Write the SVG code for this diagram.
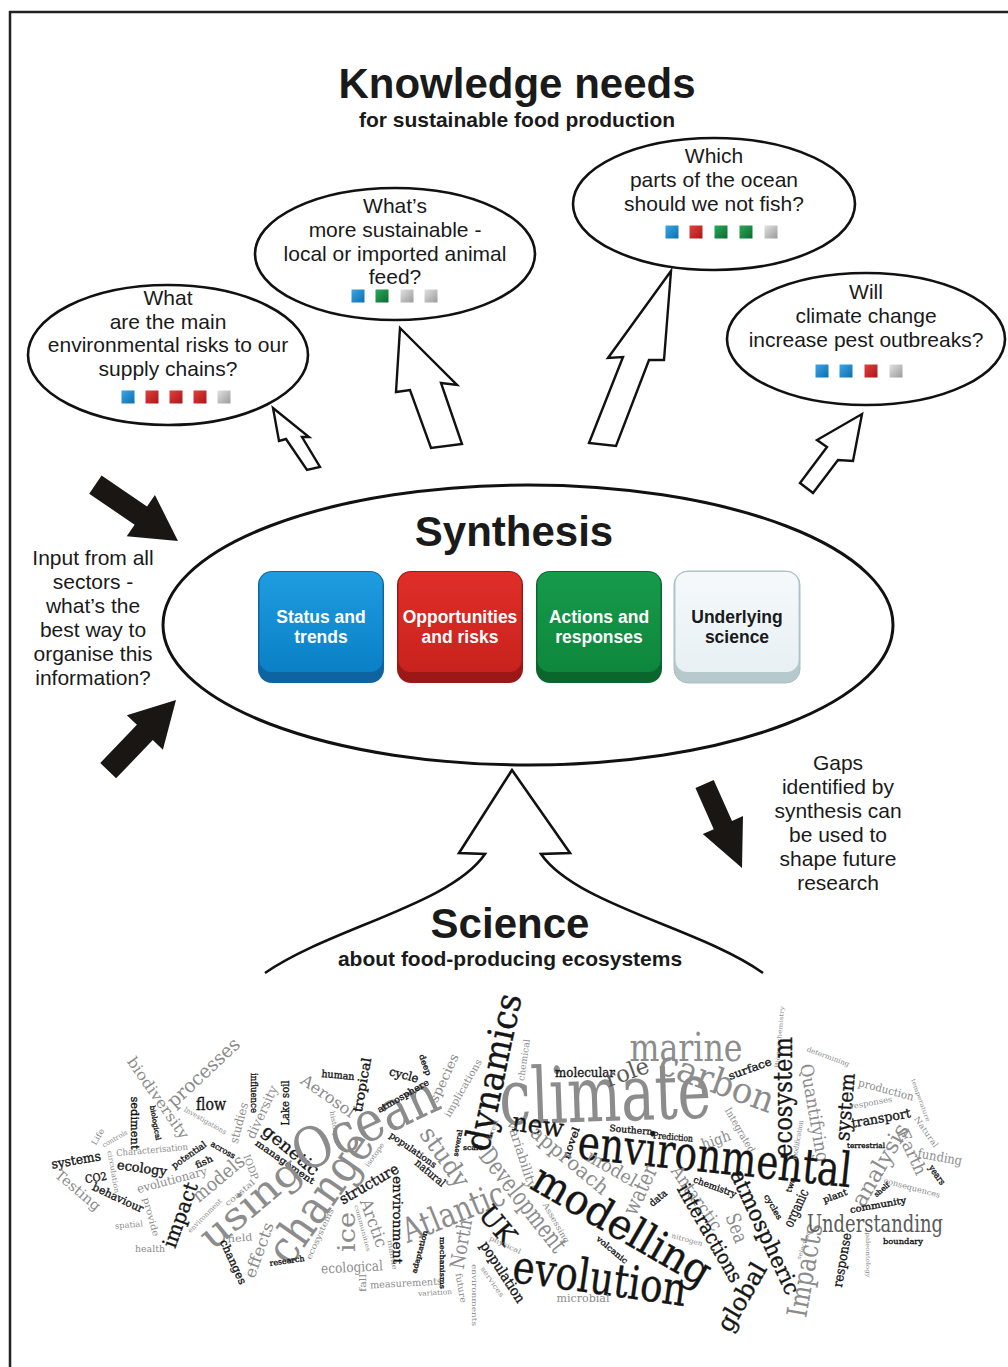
<svg xmlns="http://www.w3.org/2000/svg" width="1008" height="1367" viewBox="0 0 1008 1367">
<defs>
<style>
.sans{font-family:"Liberation Sans",Arial,sans-serif;fill:#1a1a1a;text-anchor:middle}
.q{font-size:21px}
.bt{font-size:17.5px;font-weight:bold;fill:#fff}
.bub{fill:#fff;stroke:#111;stroke-width:2.6}
.ha{fill:#fff;stroke:#111;stroke-width:2.4;stroke-linejoin:miter}
.ba{fill:#1a1614;stroke:none}
.w text{font-family:"DejaVu Serif","Liberation Serif",serif;text-anchor:middle;dominant-baseline:central}
.w .b{fill:#151515;stroke:#151515;stroke-width:0.35}
.w .g{fill:#8c8c8c}
.w .d{fill:#5a5a5a}
</style>
<linearGradient id="sqB" x1="0" y1="0" x2="1" y2="1"><stop offset="0" stop-color="#3aa5e6"/><stop offset="1" stop-color="#0d6fae"/></linearGradient>
<linearGradient id="sqR" x1="0" y1="0" x2="1" y2="1"><stop offset="0" stop-color="#e5403a"/><stop offset="1" stop-color="#a8171a"/></linearGradient>
<linearGradient id="sqG" x1="0" y1="0" x2="1" y2="1"><stop offset="0" stop-color="#2aa85a"/><stop offset="1" stop-color="#0b6b2f"/></linearGradient>
<linearGradient id="sqN" x1="0" y1="0" x2="1" y2="1"><stop offset="0" stop-color="#e2e2e2"/><stop offset="1" stop-color="#9a9a9a"/></linearGradient>
<linearGradient id="fB" x1="0" y1="0" x2="0" y2="1"><stop offset="0" stop-color="#1f9ce0"/><stop offset="1" stop-color="#0a80c6"/></linearGradient>
<linearGradient id="fR" x1="0" y1="0" x2="0" y2="1"><stop offset="0" stop-color="#e02e28"/><stop offset="1" stop-color="#c9221e"/></linearGradient>
<linearGradient id="fG" x1="0" y1="0" x2="0" y2="1"><stop offset="0" stop-color="#169a4b"/><stop offset="1" stop-color="#0e873d"/></linearGradient>
<linearGradient id="fL" x1="0" y1="0" x2="0" y2="1"><stop offset="0" stop-color="#f5f9fb"/><stop offset="1" stop-color="#e8f0f3"/></linearGradient>
<rect id="sq" x="-6.5" y="-6.5" width="13" height="13"/>
</defs>

<rect x="10" y="12" width="1030" height="1400" fill="#fff" stroke="#222" stroke-width="2.5"/>

<g id="title">
<text class="sans" x="517" y="98" style="font-size:42px;font-weight:bold">Knowledge needs</text>
<text class="sans" x="517" y="127" style="font-size:21px;font-weight:bold">for sustainable food production</text>
</g>

<g id="connectors">
<polygon id="arrowA" class="ha" points="273,408 309,437 302,437 320,467 307,470 286,439 279,441"/>
<polygon id="arrowB" class="ha" points="400,328 457,385 441,383 462,444 431,448 410,390 396,392"/>
<polygon id="arrowC" class="ha" points="671,271 664,360 649,360 616,446 589,443 623,357 608,358"/>
<polygon id="arrowD" class="ha" points="862,414 853,461 838,460 813,493 800,483 827,447 817,440"/>
<polygon id="inTop" class="ba" transform="translate(178,541) rotate(124.3)" points="0,0 25,45 11,45 11,100 -11,100 -11,45 -25,45"/>
<polygon id="inBottom" class="ba" transform="translate(176,700) rotate(43.8)" points="0,0 25,45 11,45 11,98 -11,98 -11,45 -25,45"/>
<polygon id="gapsArrow" class="ba" transform="translate(742,868) rotate(156)" points="0,0 22,47 10,47 10,92 -10,92 -10,47 -22,47"/>
<path id="scienceArrow" d="M265,973 C330,928 450,905 485,854 L459,853 L512,770 L570,853 L541,854 C576,905 700,928 763,973" fill="none" stroke="#111" stroke-width="2.6" stroke-linejoin="miter"/>
</g>

<g id="q1">
<ellipse class="bub" cx="168" cy="355" rx="140" ry="70"/>
<text class="sans q" x="168" y="305">What</text>
<text class="sans q" x="168" y="329">are the main</text>
<text class="sans q" x="168" y="352">environmental risks to our</text>
<text class="sans q" x="168" y="376">supply chains?</text>
<use href="#sq" x="128" y="397" fill="url(#sqB)"/>
<use href="#sq" x="152" y="397" fill="url(#sqR)"/>
<use href="#sq" x="176" y="397" fill="url(#sqR)"/>
<use href="#sq" x="200" y="397" fill="url(#sqR)"/>
<use href="#sq" x="224" y="397" fill="url(#sqN)"/>
</g>

<g id="q2">
<ellipse class="bub" cx="395" cy="254" rx="140" ry="66"/>
<text class="sans q" x="395" y="213">What’s</text>
<text class="sans q" x="395" y="237">more sustainable -</text>
<text class="sans q" x="395" y="261">local or imported animal</text>
<text class="sans q" x="395" y="284">feed?</text>
<use href="#sq" x="358" y="296" fill="url(#sqB)"/>
<use href="#sq" x="382" y="296" fill="url(#sqG)"/>
<use href="#sq" x="407" y="296" fill="url(#sqN)"/>
<use href="#sq" x="431" y="296" fill="url(#sqN)"/>
</g>

<g id="q3">
<ellipse class="bub" cx="714" cy="204" rx="141" ry="66"/>
<text class="sans q" x="714" y="163">Which</text>
<text class="sans q" x="714" y="187">parts of the ocean</text>
<text class="sans q" x="714" y="211">should we not fish?</text>
<use href="#sq" x="672" y="232" fill="url(#sqB)"/>
<use href="#sq" x="696" y="232" fill="url(#sqR)"/>
<use href="#sq" x="721" y="232" fill="url(#sqG)"/>
<use href="#sq" x="746" y="232" fill="url(#sqG)"/>
<use href="#sq" x="771" y="232" fill="url(#sqN)"/>
</g>

<g id="q4">
<ellipse class="bub" cx="866" cy="339" rx="139" ry="66"/>
<text class="sans q" x="866" y="299">Will</text>
<text class="sans q" x="866" y="323">climate change</text>
<text class="sans q" x="866" y="347">increase pest outbreaks?</text>
<use href="#sq" x="822" y="371" fill="url(#sqB)"/>
<use href="#sq" x="846" y="371" fill="url(#sqB)"/>
<use href="#sq" x="871" y="371" fill="url(#sqR)"/>
<use href="#sq" x="896" y="371" fill="url(#sqN)"/>
</g>

<g id="inputText">
<text class="sans q" x="93" y="565">Input from all</text>
<text class="sans q" x="93" y="589">sectors -</text>
<text class="sans q" x="93" y="613">what’s the</text>
<text class="sans q" x="93" y="637">best way to</text>
<text class="sans q" x="93" y="661">organise this</text>
<text class="sans q" x="93" y="685">information?</text>
</g>

<g id="gapsText">
<text class="sans q" x="838" y="770">Gaps</text>
<text class="sans q" x="838" y="794">identified by</text>
<text class="sans q" x="838" y="818">synthesis can</text>
<text class="sans q" x="838" y="842">be used to</text>
<text class="sans q" x="838" y="866">shape future</text>
<text class="sans q" x="838" y="890">research</text>
</g>

<g id="synthesis">
<ellipse cx="528" cy="625" rx="365" ry="140" fill="#fff" stroke="#111" stroke-width="3"/>
<text class="sans" x="514" y="546" style="font-size:42px;font-weight:bold">Synthesis</text>
</g>

<g id="boxStatus">
<rect x="258" y="571" width="126" height="112" rx="14" fill="#0d64a0"/>
<rect x="259.5" y="572" width="123" height="100" rx="12" fill="url(#fB)"/>
<text class="sans bt" x="321" y="623">Status and</text>
<text class="sans bt" x="321" y="643">trends</text>
</g>
<g id="boxOpportunities">
<rect x="397" y="571" width="126" height="112" rx="14" fill="#9b1816"/>
<rect x="398.5" y="572" width="123" height="100" rx="12" fill="url(#fR)"/>
<text class="sans bt" x="460" y="623">Opportunities</text>
<text class="sans bt" x="460" y="643">and risks</text>
</g>
<g id="boxActions">
<rect x="536" y="571" width="126" height="112" rx="14" fill="#0a662d"/>
<rect x="537.5" y="572" width="123" height="100" rx="12" fill="url(#fG)"/>
<text class="sans bt" x="599" y="623">Actions and</text>
<text class="sans bt" x="599" y="643">responses</text>
</g>
<g id="boxScience">
<rect x="674" y="571" width="126" height="112" rx="14" fill="#b6cace" stroke="#a8bec4" stroke-width="1"/>
<rect x="675.5" y="572" width="123" height="100" rx="12" fill="url(#fL)"/>
<text class="sans bt" x="737" y="623" style="fill:#1a1a1a">Underlying</text>
<text class="sans bt" x="737" y="643" style="fill:#1a1a1a">science</text>
</g>

<g id="science">
<text class="sans" x="510" y="938" style="font-size:42px;font-weight:bold">Science</text>
<text class="sans" x="510" y="966" style="font-size:21px;font-weight:bold">about food-producing ecosystems</text>
</g>

<g id="wordcloud" class="w">
<text class="b" transform="translate(76,1160) rotate(-10)" font-size="13" textLength="50" lengthAdjust="spacingAndGlyphs">systems</text>
<text class="g" transform="translate(158,1098) rotate(55)" font-size="15" textLength="96" lengthAdjust="spacingAndGlyphs">biodiversity</text>
<text class="g" transform="translate(203,1072) rotate(-43)" font-size="19" textLength="92" lengthAdjust="spacingAndGlyphs">processes</text>
<text class="b" transform="translate(211,1104)" font-size="16" textLength="30" lengthAdjust="spacingAndGlyphs">flow</text>
<text class="b" transform="translate(134,1123) rotate(90)" font-size="11" textLength="53" lengthAdjust="spacingAndGlyphs">sediment</text>
<text class="b" transform="translate(155,1123) rotate(80)" font-size="7" textLength="35" lengthAdjust="spacingAndGlyphs">biological</text>
<text class="g" transform="translate(205,1121) rotate(30)" font-size="7" textLength="48" lengthAdjust="spacingAndGlyphs">Investigations</text>
<text class="g" transform="translate(152,1150) rotate(-5)" font-size="9" textLength="72" lengthAdjust="spacingAndGlyphs">Characterisation</text>
<text class="g" transform="translate(98,1137) rotate(-60)" font-size="8" textLength="18" lengthAdjust="spacingAndGlyphs">Life</text>
<text class="g" transform="translate(115,1139) rotate(-30)" font-size="7" textLength="28" lengthAdjust="spacingAndGlyphs">controls</text>
<text class="b" transform="translate(142,1168) rotate(8)" font-size="13" textLength="50" lengthAdjust="spacingAndGlyphs">ecology</text>
<text class="b" transform="translate(189,1155) rotate(-35)" font-size="9" textLength="40" lengthAdjust="spacingAndGlyphs">potential</text>
<text class="b" transform="translate(204,1162) rotate(-25)" font-size="9" textLength="18" lengthAdjust="spacingAndGlyphs">fish</text>
<text class="b" transform="translate(223,1150) rotate(30)" font-size="8" textLength="27" lengthAdjust="spacingAndGlyphs">across</text>
<text class="g" transform="translate(239,1123) rotate(-75)" font-size="12" textLength="42" lengthAdjust="spacingAndGlyphs">studies</text>
<text class="b" transform="translate(254,1093) rotate(90)" font-size="9" textLength="40" lengthAdjust="spacingAndGlyphs">influence</text>
<text class="g" transform="translate(262,1112) rotate(-65)" font-size="13" textLength="57" lengthAdjust="spacingAndGlyphs">diversity</text>
<text class="b" transform="translate(285,1103) rotate(-90)" font-size="11" textLength="45" lengthAdjust="spacingAndGlyphs">Lake soil</text>
<text class="g" transform="translate(251,1167) rotate(70)" font-size="10" textLength="26" lengthAdjust="spacingAndGlyphs">IODP</text>
<text class="b" transform="translate(285,1162) rotate(35)" font-size="9" textLength="70" lengthAdjust="spacingAndGlyphs">management</text>
<text class="b" transform="translate(291,1150) rotate(40)" font-size="17" textLength="68" lengthAdjust="spacingAndGlyphs">genetic</text>
<text class="b" transform="translate(338,1075) rotate(5)" font-size="10" textLength="33" lengthAdjust="spacingAndGlyphs">human</text>
<text class="g" transform="translate(328,1096) rotate(35)" font-size="16" textLength="62" lengthAdjust="spacingAndGlyphs">Aerosol</text>
<text class="b" transform="translate(362,1085) rotate(-80)" font-size="13" textLength="55" lengthAdjust="spacingAndGlyphs">tropical</text>
<text class="g" transform="translate(365,1123) rotate(-25)" font-size="56" textLength="155" lengthAdjust="spacingAndGlyphs">Ocean</text>
<text class="g" transform="translate(334,1124) rotate(80)" font-size="7" textLength="26" lengthAdjust="spacingAndGlyphs">history</text>
<text class="b" transform="translate(404,1075) rotate(15)" font-size="12" textLength="30" lengthAdjust="spacingAndGlyphs">cycle</text>
<text class="b" transform="translate(403,1096) rotate(-30)" font-size="9" textLength="58" lengthAdjust="spacingAndGlyphs">atmosphere</text>
<text class="b" transform="translate(425,1065) rotate(70)" font-size="8" textLength="22" lengthAdjust="spacingAndGlyphs">deep</text>
<text class="g" transform="translate(444,1078) rotate(-65)" font-size="13" textLength="52" lengthAdjust="spacingAndGlyphs">species</text>
<text class="g" transform="translate(463,1088) rotate(-60)" font-size="10" textLength="65" lengthAdjust="spacingAndGlyphs">implications</text>
<text class="b" transform="translate(493,1072) rotate(-78)" font-size="36" textLength="160" lengthAdjust="spacingAndGlyphs">dynamics</text>
<text class="g" transform="translate(375,1155) rotate(-55)" font-size="7" textLength="28" lengthAdjust="spacingAndGlyphs">isotope</text>
<text class="b" transform="translate(413,1150) rotate(35)" font-size="9" textLength="55" lengthAdjust="spacingAndGlyphs">populations</text>
<text class="g" transform="translate(445,1157) rotate(55)" font-size="25" textLength="68" lengthAdjust="spacingAndGlyphs">study</text>
<text class="b" transform="translate(430,1173) rotate(40)" font-size="11" textLength="36" lengthAdjust="spacingAndGlyphs">natural</text>
<text class="g" transform="translate(78,1190) rotate(40)" font-size="14" textLength="55" lengthAdjust="spacingAndGlyphs">Testing</text>
<text class="b" transform="translate(96,1178) rotate(-10)" font-size="11" textLength="22" lengthAdjust="spacingAndGlyphs">CO2</text>
<text class="g" transform="translate(113,1172) rotate(80)" font-size="7" textLength="43" lengthAdjust="spacingAndGlyphs">circulation</text>
<text class="b" transform="translate(118,1198) rotate(25)" font-size="11" textLength="55" lengthAdjust="spacingAndGlyphs">behaviour</text>
<text class="g" transform="translate(172,1180) rotate(-15)" font-size="12" textLength="72" lengthAdjust="spacingAndGlyphs">evolutionary</text>
<text class="g" transform="translate(151,1217) rotate(75)" font-size="9" textLength="40" lengthAdjust="spacingAndGlyphs">provide</text>
<text class="g" transform="translate(129,1225) rotate(-5)" font-size="8" textLength="28" lengthAdjust="spacingAndGlyphs">spatial</text>
<text class="g" transform="translate(150,1249)" font-size="9" textLength="30" lengthAdjust="spacingAndGlyphs">health</text>
<text class="b" transform="translate(180,1215) rotate(-70)" font-size="20" textLength="68" lengthAdjust="spacingAndGlyphs">impact</text>
<text class="g" transform="translate(218,1178) rotate(-40)" font-size="19" textLength="62" lengthAdjust="spacingAndGlyphs">models</text>
<text class="g" transform="translate(240,1193) rotate(-40)" font-size="8" textLength="36" lengthAdjust="spacingAndGlyphs">coastal</text>
<text class="g" transform="translate(205,1216) rotate(-45)" font-size="7" textLength="45" lengthAdjust="spacingAndGlyphs">environment</text>
<text class="g" transform="translate(250,1203) rotate(-40)" font-size="38" textLength="120" lengthAdjust="spacingAndGlyphs">using</text>
<text class="g" transform="translate(320,1197) rotate(-55)" font-size="46" textLength="150" lengthAdjust="spacingAndGlyphs">change</text>
<text class="g" transform="translate(240,1238) rotate(-5)" font-size="10" textLength="25" lengthAdjust="spacingAndGlyphs">field</text>
<text class="g" transform="translate(259,1250) rotate(-70)" font-size="16" textLength="58" lengthAdjust="spacingAndGlyphs">effects</text>
<text class="b" transform="translate(233,1262) rotate(65)" font-size="11" textLength="48" lengthAdjust="spacingAndGlyphs">changes</text>
<text class="b" transform="translate(287,1261) rotate(-8)" font-size="8" textLength="35" lengthAdjust="spacingAndGlyphs">research</text>
<text class="g" transform="translate(320,1234) rotate(-65)" font-size="8" textLength="55" lengthAdjust="spacingAndGlyphs">ecosystems</text>
<text class="b" transform="translate(369,1184) rotate(-30)" font-size="15" textLength="66" lengthAdjust="spacingAndGlyphs">structure</text>
<text class="g" transform="translate(347,1232) rotate(-90)" font-size="24" textLength="40" lengthAdjust="spacingAndGlyphs">ice</text>
<text class="g" transform="translate(352,1267) rotate(-3)" font-size="14" textLength="62" lengthAdjust="spacingAndGlyphs">ecological</text>
<text class="g" transform="translate(363,1228) rotate(75)" font-size="6" textLength="48" lengthAdjust="spacingAndGlyphs">communities</text>
<text class="g" transform="translate(374,1223) rotate(70)" font-size="17" textLength="50" lengthAdjust="spacingAndGlyphs">Arctic</text>
<text class="g" transform="translate(392,1255) rotate(80)" font-size="7" textLength="30" lengthAdjust="spacingAndGlyphs">mantle</text>
<text class="b" transform="translate(397,1220) rotate(90)" font-size="13" textLength="88" lengthAdjust="spacingAndGlyphs">environment</text>
<text class="g" transform="translate(362,1283) rotate(-90)" font-size="10" textLength="18" lengthAdjust="spacingAndGlyphs">fall</text>
<text class="g" transform="translate(406,1283) rotate(-3)" font-size="10" textLength="72" lengthAdjust="spacingAndGlyphs">measurements</text>
<text class="g" transform="translate(435,1293) rotate(-3)" font-size="7" textLength="34" lengthAdjust="spacingAndGlyphs">variation</text>
<text class="g" transform="translate(453,1212) rotate(-22)" font-size="34" textLength="108" lengthAdjust="spacingAndGlyphs">Atlantic</text>
<text class="b" transform="translate(420,1252) rotate(-75)" font-size="7" textLength="44" lengthAdjust="spacingAndGlyphs">adaptation</text>
<text class="b" transform="translate(442,1263) rotate(90)" font-size="7" textLength="52" lengthAdjust="spacingAndGlyphs">mechanisms</text>
<text class="g" transform="translate(461,1244) rotate(-80)" font-size="20" textLength="50" lengthAdjust="spacingAndGlyphs">North</text>
<text class="g" transform="translate(461,1288) rotate(80)" font-size="9" textLength="30" lengthAdjust="spacingAndGlyphs">future</text>
<text class="g" transform="translate(474,1295) rotate(90)" font-size="7" textLength="62" lengthAdjust="spacingAndGlyphs">environments</text>
<text class="g" transform="translate(492,1282) rotate(55)" font-size="7" textLength="35" lengthAdjust="spacingAndGlyphs">services</text>
<text class="b" transform="translate(503,1272) rotate(57)" font-size="14" textLength="70" lengthAdjust="spacingAndGlyphs">population</text>
<text class="b" transform="translate(498,1225) rotate(50)" font-size="27" textLength="42" lengthAdjust="spacingAndGlyphs">UK</text>
<text class="g" transform="translate(505,1245) rotate(25)" font-size="7" textLength="34" lengthAdjust="spacingAndGlyphs">physical</text>
<text class="g" transform="translate(523,1200) rotate(52)" font-size="25" textLength="125" lengthAdjust="spacingAndGlyphs">Development</text>
<text class="g" transform="translate(556,1223) rotate(60)" font-size="8" textLength="45" lengthAdjust="spacingAndGlyphs">Assessing</text>
<text class="g" transform="translate(524,1060) rotate(-82)" font-size="9" textLength="42" lengthAdjust="spacingAndGlyphs">chemical</text>
<text class="g" transform="translate(605,1094) rotate(-2)" font-size="78" textLength="212" lengthAdjust="spacingAndGlyphs">climate</text>
<text class="g" transform="translate(686,1047)" font-size="40" textLength="113" lengthAdjust="spacingAndGlyphs">marine</text>
<text class="b" transform="translate(585,1072)" font-size="13" textLength="60" lengthAdjust="spacingAndGlyphs">molecular</text>
<text class="d" transform="translate(627,1072) rotate(-20)" font-size="23" textLength="45" lengthAdjust="spacingAndGlyphs">role</text>
<text class="g" transform="translate(717,1081) rotate(20)" font-size="36" textLength="120" lengthAdjust="spacingAndGlyphs">carbon</text>
<text class="b" transform="translate(750,1069) rotate(-20)" font-size="11" textLength="45" lengthAdjust="spacingAndGlyphs">surface</text>
<text class="g" transform="translate(779,1037) rotate(-85)" font-size="6" textLength="62" lengthAdjust="spacingAndGlyphs">Biogeochemistry</text>
<text class="b" transform="translate(783,1097) rotate(-90)" font-size="26" textLength="120" lengthAdjust="spacingAndGlyphs">ecosystem</text>
<text class="g" transform="translate(828,1057) rotate(20)" font-size="7" textLength="45" lengthAdjust="spacingAndGlyphs">determining</text>
<text class="g" transform="translate(815,1113) rotate(80)" font-size="18" textLength="100" lengthAdjust="spacingAndGlyphs">Quantifying</text>
<text class="b" transform="translate(845,1107) rotate(-85)" font-size="20" textLength="68" lengthAdjust="spacingAndGlyphs">system</text>
<text class="g" transform="translate(886,1090) rotate(15)" font-size="11" textLength="57" lengthAdjust="spacingAndGlyphs">production</text>
<text class="g" transform="translate(921,1100) rotate(70)" font-size="6" textLength="45" lengthAdjust="spacingAndGlyphs">temperature</text>
<text class="g" transform="translate(871,1103) rotate(-10)" font-size="8" textLength="43" lengthAdjust="spacingAndGlyphs">responses</text>
<text class="b" transform="translate(881,1118) rotate(-10)" font-size="13" textLength="60" lengthAdjust="spacingAndGlyphs">transport</text>
<text class="g" transform="translate(740,1130) rotate(60)" font-size="10" textLength="50" lengthAdjust="spacingAndGlyphs">Integrated</text>
<text class="g" transform="translate(716,1140) rotate(-20)" font-size="15" textLength="30" lengthAdjust="spacingAndGlyphs">high</text>
<text class="b" transform="translate(673,1137) rotate(5)" font-size="9" textLength="40" lengthAdjust="spacingAndGlyphs">Prediction</text>
<text class="b" transform="translate(631,1130) rotate(5)" font-size="9" textLength="43" lengthAdjust="spacingAndGlyphs">Southern</text>
<text class="b" transform="translate(538,1125) rotate(8)" font-size="26" textLength="52" lengthAdjust="spacingAndGlyphs">new</text>
<text class="b" transform="translate(715,1156) rotate(6)" font-size="48" textLength="275" lengthAdjust="spacingAndGlyphs">environmental</text>
<text class="b" transform="translate(571,1143) rotate(-70)" font-size="10" textLength="33" lengthAdjust="spacingAndGlyphs">novel</text>
<text class="g" transform="translate(493,1130) rotate(-70)" font-size="7" textLength="22" lengthAdjust="spacingAndGlyphs">forest</text>
<text class="b" transform="translate(473,1148)" font-size="7" textLength="20" lengthAdjust="spacingAndGlyphs">scale</text>
<text class="b" transform="translate(458,1143) rotate(-80)" font-size="7" textLength="27" lengthAdjust="spacingAndGlyphs">several</text>
<text class="g" transform="translate(522,1155) rotate(72)" font-size="13" textLength="70" lengthAdjust="spacingAndGlyphs">variability</text>
<text class="g" transform="translate(570,1160) rotate(40)" font-size="20" textLength="95" lengthAdjust="spacingAndGlyphs">approach</text>
<text class="g" transform="translate(612,1168) rotate(30)" font-size="18" textLength="55" lengthAdjust="spacingAndGlyphs">model</text>
<text class="g" transform="translate(798,1140) rotate(-80)" font-size="7" textLength="40" lengthAdjust="spacingAndGlyphs">modification</text>
<text class="b" transform="translate(866,1146)" font-size="7" textLength="38" lengthAdjust="spacingAndGlyphs">terrestrial</text>
<text class="g" transform="translate(880,1165) rotate(-60)" font-size="22" textLength="92" lengthAdjust="spacingAndGlyphs">analysis</text>
<text class="g" transform="translate(912,1152) rotate(65)" font-size="17" textLength="48" lengthAdjust="spacingAndGlyphs">Earth</text>
<text class="g" transform="translate(926,1132) rotate(55)" font-size="8" textLength="36" lengthAdjust="spacingAndGlyphs">Natural</text>
<text class="g" transform="translate(940,1157) rotate(10)" font-size="13" textLength="45" lengthAdjust="spacingAndGlyphs">funding</text>
<text class="b" transform="translate(937,1175) rotate(55)" font-size="9" textLength="22" lengthAdjust="spacingAndGlyphs">years</text>
<text class="b" transform="translate(622,1225) rotate(30)" font-size="42" textLength="200" lengthAdjust="spacingAndGlyphs">modelling</text>
<text class="g" transform="translate(640,1190) rotate(-65)" font-size="22" textLength="52" lengthAdjust="spacingAndGlyphs">water</text>
<text class="b" transform="translate(658,1198) rotate(-40)" font-size="10" textLength="20" lengthAdjust="spacingAndGlyphs">data</text>
<text class="g" transform="translate(697,1198) rotate(55)" font-size="18" textLength="75" lengthAdjust="spacingAndGlyphs">Antarctic</text>
<text class="b" transform="translate(715,1187) rotate(20)" font-size="9" textLength="45" lengthAdjust="spacingAndGlyphs">chemistry</text>
<text class="b" transform="translate(710,1233) rotate(60)" font-size="20" textLength="110" lengthAdjust="spacingAndGlyphs">interactions</text>
<text class="g" transform="translate(737,1228) rotate(70)" font-size="20" textLength="30" lengthAdjust="spacingAndGlyphs">Sea</text>
<text class="b" transform="translate(765,1232) rotate(65)" font-size="22" textLength="135" lengthAdjust="spacingAndGlyphs">atmospheric</text>
<text class="b" transform="translate(742,1297) rotate(-60)" font-size="24" textLength="75" lengthAdjust="spacingAndGlyphs">global</text>
<text class="b" transform="translate(600,1278) rotate(8)" font-size="46" textLength="175" lengthAdjust="spacingAndGlyphs">evolution</text>
<text class="g" transform="translate(583,1298)" font-size="11" textLength="53" lengthAdjust="spacingAndGlyphs">microbial</text>
<text class="b" transform="translate(612,1250) rotate(40)" font-size="8" textLength="38" lengthAdjust="spacingAndGlyphs">volcanic</text>
<text class="g" transform="translate(687,1240) rotate(15)" font-size="7" textLength="32" lengthAdjust="spacingAndGlyphs">nitrogen</text>
<text class="g" transform="translate(805,1270) rotate(-80)" font-size="28" textLength="95" lengthAdjust="spacingAndGlyphs">Impacts</text>
<text class="b" transform="translate(796,1208) rotate(-65)" font-size="14" textLength="40" lengthAdjust="spacingAndGlyphs">organic</text>
<text class="b" transform="translate(773,1207) rotate(60)" font-size="8" textLength="28" lengthAdjust="spacingAndGlyphs">cycles</text>
<text class="b" transform="translate(791,1185) rotate(-70)" font-size="8" textLength="15" lengthAdjust="spacingAndGlyphs">two</text>
<text class="b" transform="translate(842,1260) rotate(-80)" font-size="13" textLength="55" lengthAdjust="spacingAndGlyphs">response</text>
<text class="b" transform="translate(835,1196) rotate(-20)" font-size="9" textLength="25" lengthAdjust="spacingAndGlyphs">plant</text>
<text class="b" transform="translate(882,1190) rotate(-40)" font-size="7" textLength="18" lengthAdjust="spacingAndGlyphs">shelf</text>
<text class="b" transform="translate(878,1205) rotate(-10)" font-size="9" textLength="57" lengthAdjust="spacingAndGlyphs">community</text>
<text class="g" transform="translate(912,1188) rotate(15)" font-size="8" textLength="58" lengthAdjust="spacingAndGlyphs">consequences</text>
<text class="d" transform="translate(875,1223)" font-size="25" textLength="136" lengthAdjust="spacingAndGlyphs">Understanding</text>
<text class="b" transform="translate(903,1241)" font-size="8" textLength="40" lengthAdjust="spacingAndGlyphs">boundary</text>
<text class="g" transform="translate(803,1245) rotate(-70)" font-size="6" textLength="30" lengthAdjust="spacingAndGlyphs">selection</text>
<text class="g" transform="translate(868,1255) rotate(90)" font-size="6" textLength="45" lengthAdjust="spacingAndGlyphs">paleontology</text>
</g>
</svg>
